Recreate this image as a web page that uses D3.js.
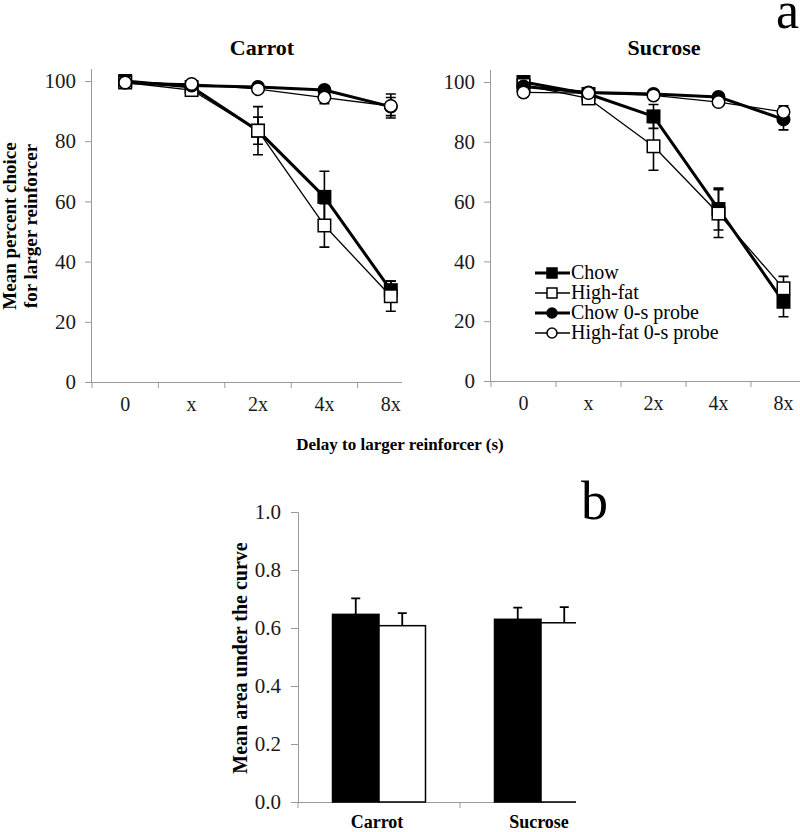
<!DOCTYPE html>
<html><head><meta charset="utf-8">
<script src="https://cdn.jsdelivr.net/npm/d3@7"></script>
<style>body{margin:0;background:#fff}svg{display:block}text{font-family:"Liberation Serif","Times New Roman",serif}</style>
</head><body>
<svg id="c" width="800" height="832"></svg>
<script>
// ---- data ----
const delays = ["0", "x", "2x", "4x", "8x"];
const seriesNames = ["Chow", "High-fat", "Chow 0-s probe", "High-fat 0-s probe"];
const carrotChow = [100, 98, 83.5, 61.5, 30.5];
const carrotChowErr = [0.5, 1, 4.5, 8.5, 3];
const carrotHF = [99.5, 97, 83.5, 52, 28.5];
const carrotHFErr = [0.5, 1, 8, 7.2, 5];
const carrotChowProbe = [99.5, 98.5, 98, 97, 91.5];
const carrotChowProbeErr = [0.5, 0.5, 1, 1, 3];
const carrotHFProbe = [99.5, 99, 97.3, 94.5, 91.7];
const carrotHFProbeErr = [0.5, 0.5, 1, 2, 4];
const sucroseChow = [100, 96, 88.5, 57.5, 26.5];
const sucroseChowErr = [0.5, 1, 4, 7, 5];
const sucroseHF = [99, 94.5, 78.5, 56, 31];
const sucroseHFErr = [0.5, 1, 8, 8, 4];
const sucroseChowProbe = [98.5, 96.5, 96, 95, 87.5];
const sucroseChowProbeErr = [1, 1, 1, 1, 3.5];
const sucroseHFProbe = [96.5, 96.3, 95.5, 93.3, 90];
const sucroseHFProbeErr = [1, 1, 1, 1, 2];
const yTicksA = [0, 20, 40, 60, 80, 100];

const foods = ["Carrot", "Sucrose"];
const aucChow = [0.647, 0.630];
const aucChowErr = [0.055, 0.040];
const aucHF = [0.608, 0.618];
const aucHFErr = [0.043, 0.054];
const yTicksB = [0, 0.2, 0.4, 0.6, 0.8, 1.0];

// ---- drawing ----
const svg = d3.select("#c");
const AX = "#9a9a9a", TXT = "#1a1a1a";
const SERIF = '"Liberation Serif","Times New Roman",serif';
const styles = [
  {shape: "square", fill: "#000", lw: 3},
  {shape: "square", fill: "#fff", lw: 1.3},
  {shape: "circle", fill: "#000", lw: 3},
  {shape: "circle", fill: "#fff", lw: 1.3}
];

function marker(g, shape, fill, cx, cy, s) {
  if (shape === "square") {
    g.append("rect").attr("x", cx - s / 2).attr("y", cy - s / 2).attr("width", s).attr("height", s)
      .attr("fill", fill).attr("stroke", "#000").attr("stroke-width", 1.5);
  } else {
    g.append("circle").attr("cx", cx).attr("cy", cy).attr("r", s / 2)
      .attr("fill", fill).attr("stroke", "#000").attr("stroke-width", 1.5);
  }
}

function linePanel(opts) {
  const g = svg.append("g");
  const x = d3.scaleBand().domain(delays).range(opts.xr);
  const y = d3.scaleLinear().domain([0, 100]).range(opts.yr);
  const yAxis = d3.axisLeft(y).tickValues(yTicksA).tickSize(7).tickPadding(9);
  const ya = g.append("g").attr("transform", `translate(${opts.xr[0]},0)`).call(yAxis);
  ya.select(".domain").attr("stroke", AX).attr("d", `M-0.5,${opts.yr[1] - 12}V${opts.yr[0]}`);
  ya.selectAll(".tick line").attr("stroke", AX);
  ya.selectAll(".tick text").attr("fill", TXT).style("font-size", "21px").style("font-family", SERIF);
  // x axis
  const xa = g.append("g").attr("transform", `translate(0,${opts.yr[0]})`);
  xa.append("line").attr("x1", opts.xr[0]).attr("x2", opts.xend).attr("y1", 0.5).attr("y2", 0.5).attr("stroke", AX);
  delays.forEach((d, i) => {
    const bx = x(d);
    xa.append("line").attr("x1", bx).attr("x2", bx).attr("y1", 0).attr("y2", 6).attr("stroke", AX);
    xa.append("text").attr("x", x(d) + x.bandwidth() / 2).attr("y", 29).attr("text-anchor", "middle")
      .attr("fill", TXT).style("font-size", "20px").text(d);
  });
  // title
  g.append("text").attr("x", opts.titleX).attr("y", 55).attr("text-anchor", "middle")
    .attr("font-weight", "bold").style("font-size", "22px").attr("fill", "#000").text(opts.title);
  const cx = d => x(d) + x.bandwidth() / 2;
  const line = d3.line().x((v, i) => cx(delays[i])).y(v => y(v));
  opts.series.forEach((s, k) => {
    g.append("path").attr("d", line(s.v)).attr("fill", "none").attr("stroke", "#000")
      .attr("stroke-width", styles[k].lw).attr("stroke-linejoin", "round");
  });
  opts.series.forEach((s, k) => {
    s.v.forEach((v, i) => {
      const px = cx(delays[i]);
      const e = s.e[i];
      g.append("path").attr("d", `M${px},${y(v + e)}V${y(v - e)}M${px - 5},${y(v + e)}h10M${px - 5},${y(v - e)}h10`)
        .attr("stroke", "#000").attr("stroke-width", 1.6).attr("fill", "none");
    });
  });
  opts.series.forEach((s, k) => {
    s.v.forEach((v, i) => marker(g, styles[k].shape, styles[k].fill, cx(delays[i]), y(v), 12.5));
  });
  return g;
}

linePanel({
  xr: [92, 424], xend: 402, yr: [382, 81], title: "Carrot", titleX: 262,
  series: [
    {v: carrotChow, e: carrotChowErr}, {v: carrotHF, e: carrotHFErr},
    {v: carrotChowProbe, e: carrotChowProbeErr}, {v: carrotHFProbe, e: carrotHFProbeErr}
  ]
});
linePanel({
  xr: [491, 816], xend: 800, yr: [381, 82], title: "Sucrose", titleX: 664,
  series: [
    {v: sucroseChow, e: sucroseChowErr}, {v: sucroseHF, e: sucroseHFErr},
    {v: sucroseChowProbe, e: sucroseChowProbeErr}, {v: sucroseHFProbe, e: sucroseHFProbeErr}
  ]
});

// legend
const lg = svg.append("g");
seriesNames.forEach((n, k) => {
  const yy = 273 + k * 20;
  lg.append("line").attr("x1", 535).attr("x2", 570).attr("y1", yy).attr("y2", yy)
    .attr("stroke", "#000").attr("stroke-width", styles[k].lw);
  marker(lg, styles[k].shape, styles[k].fill, 552, yy, 10);
  lg.append("text").attr("x", 571).attr("y", yy + 6).attr("fill", "#000").style("font-size", "20px").text(n);
});

// y label panel a
const yl = svg.append("text").attr("transform", "translate(0,226) rotate(-90)")
  .attr("text-anchor", "middle").attr("font-weight", "bold").style("font-size", "19px").attr("fill", "#000");
yl.append("tspan").attr("x", 0).attr("y", 16).text("Mean percent choice");
yl.append("tspan").attr("x", 0).attr("y", 37).text("for larger reinforcer");

svg.append("text").attr("x", 400).attr("y", 450).attr("text-anchor", "middle").attr("font-weight", "bold")
  .style("font-size", "17px").attr("fill", "#000").text("Delay to larger reinforcer (s)");

svg.append("text").attr("x", 776).attr("y", 28).style("font-size", "52px").attr("fill", "#000").text("a");
svg.append("text").attr("x", 581).attr("y", 519).style("font-size", "54px").attr("fill", "#000").text("b");

// ---- panel b ----
const defs = svg.append("defs");
defs.append("clipPath").attr("id", "clipB").append("rect").attr("x", 0).attr("y", 480).attr("width", 576).attr("height", 360);
const gb = svg.append("g").attr("clip-path", "url(#clipB)");
const x0 = d3.scaleBand().domain(foods).range([298, 622]);
const x1 = d3.scaleBand().domain(["Chow", "High-fat"]).range([0, x0.bandwidth()]).paddingOuter(0.742).paddingInner(0);
const yb = d3.scaleLinear().domain([0, 1]).range([802, 512]);
const yba = gb.append("g").attr("transform", "translate(298,0)")
  .call(d3.axisLeft(yb).tickValues(yTicksB).tickFormat(d3.format(".1f")).tickSize(7).tickPadding(10));
yba.select(".domain").attr("stroke", AX);
yba.selectAll(".tick line").attr("stroke", AX);
yba.selectAll(".tick text").attr("fill", TXT).style("font-size", "21px").style("font-family", SERIF);
gb.append("line").attr("x1", 298).attr("x2", 622).attr("y1", 802.5).attr("y2", 802.5).attr("stroke", AX);
foods.forEach(f => {
  gb.append("line").attr("x1", x0(f)).attr("x2", x0(f)).attr("y1", 802).attr("y2", 808).attr("stroke", AX);
});
const groups = [
  {name: "Chow", v: aucChow, e: aucChowErr, fill: "#000"},
  {name: "High-fat", v: aucHF, e: aucHFErr, fill: "#fff"}
];
groups.forEach(gr => {
  foods.forEach((f, i) => {
    const bx = x0(f) + x1(gr.name), bw = x1.bandwidth();
    const cxb = bx + bw / 2;
    gb.append("path").attr("d", `M${cxb},${yb(gr.v[i])}V${yb(gr.v[i] + gr.e[i])}M${cxb - 4.5},${yb(gr.v[i] + gr.e[i])}h9`)
      .attr("stroke", "#000").attr("stroke-width", 1.8);
    gb.append("rect").attr("x", bx).attr("y", yb(gr.v[i])).attr("width", bw).attr("height", yb(0) - yb(gr.v[i]))
      .attr("fill", gr.fill).attr("stroke", "#000").attr("stroke-width", 1.5);
  });
});
foods.forEach(f => {
  svg.append("text").attr("x", x0(f) + x0.bandwidth() / 2 - 2).attr("y", 828).attr("text-anchor", "middle")
    .attr("font-weight", "bold").style("font-size", "18px").attr("fill", "#000").text(f);
});
svg.append("text").attr("transform", "translate(247,658) rotate(-90)")
  .attr("text-anchor", "middle").attr("font-weight", "bold").style("font-size", "20px").attr("fill", "#000")
  .text("Mean area under the curve");
</script>
</body></html>
